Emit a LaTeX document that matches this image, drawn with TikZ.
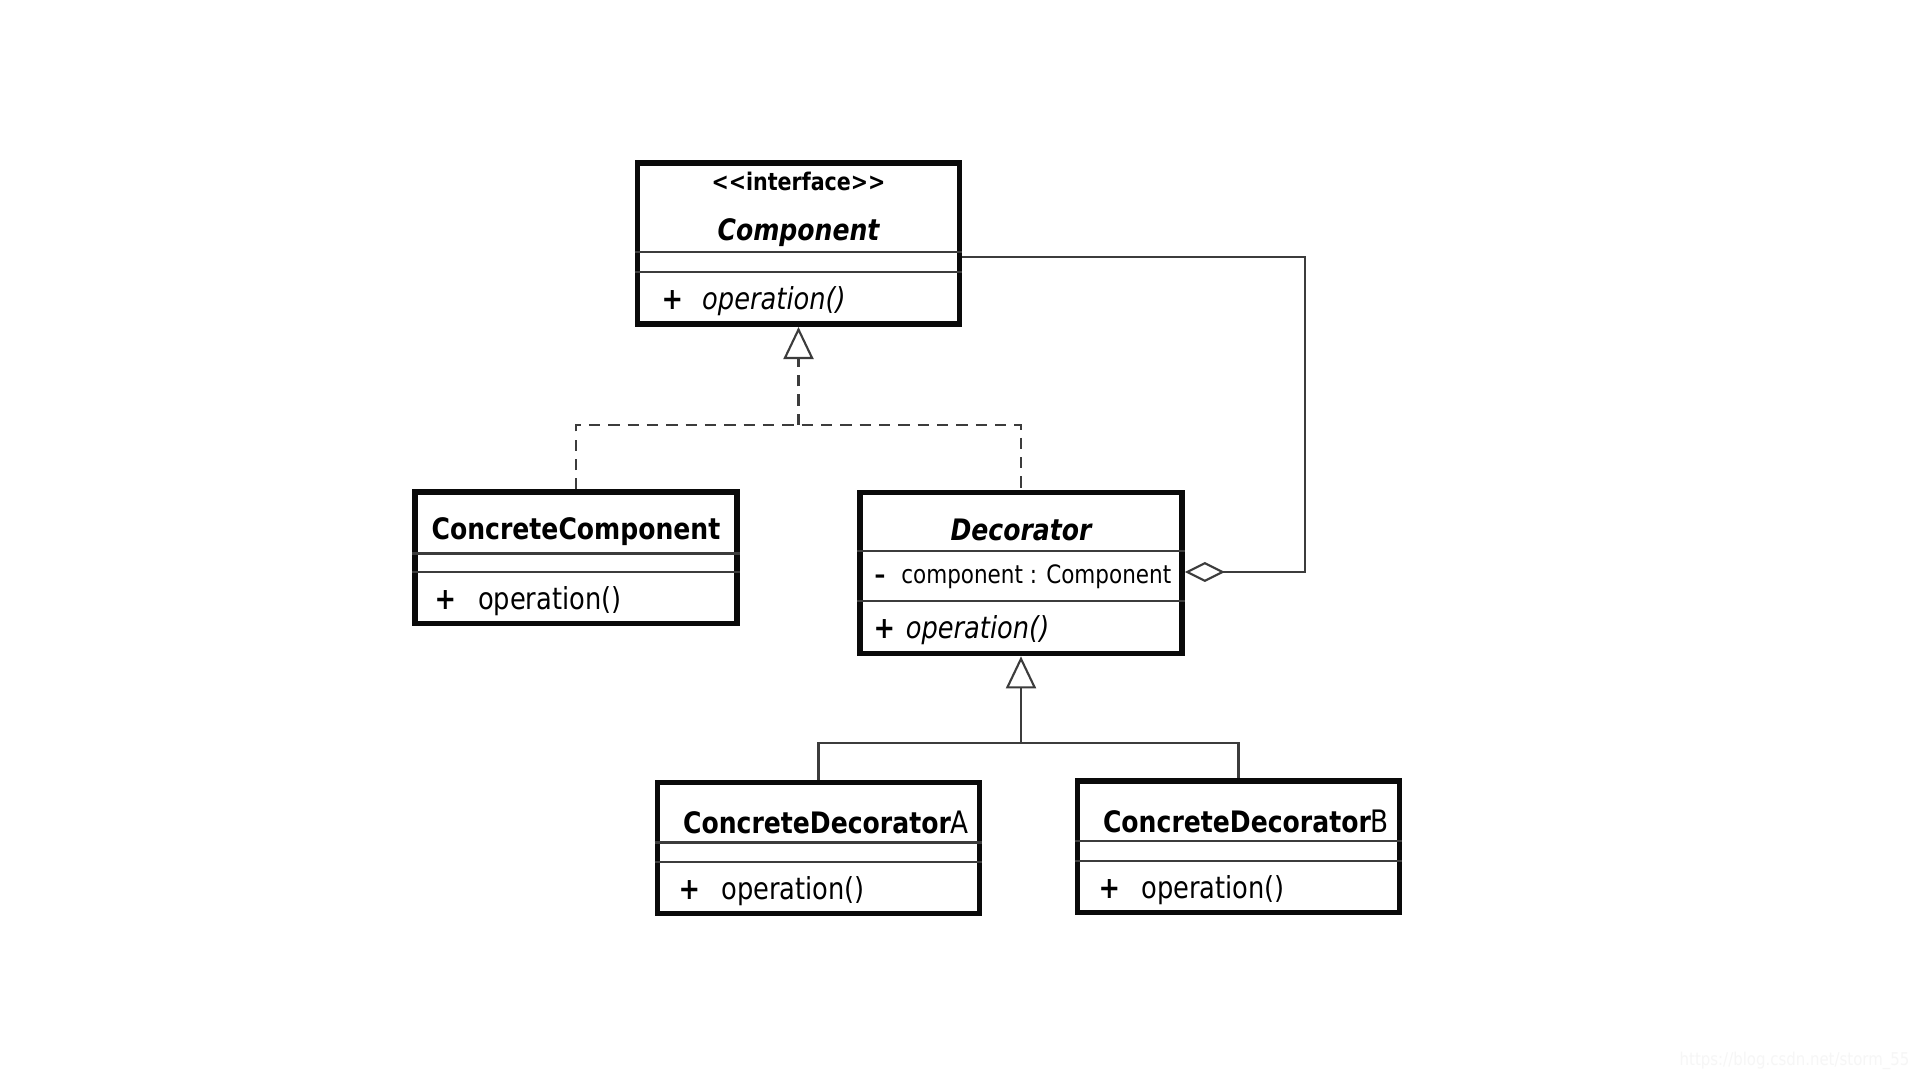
\documentclass[tikz,border=0pt]{standalone}
\usepackage{fontspec}
\setmainfont{DejaVu Sans}[FakeStretch=0.85]
\usepackage{tikz}
\usetikzlibrary{arrows.meta,positioning}
\definecolor{umlblack}{HTML}{0A0A0A}
\definecolor{umlgray}{HTML}{3C3C3C}
\definecolor{umlfaint}{HTML}{F6F6F6}
\tikzset{
  umlbox/.style={
    draw=umlblack, fill=white, line width=1.6pt,
    minimum width=3.22cm, inner sep=0pt
  },
  umlsep/.style={draw=umlgray, line width=0.7pt},
  umlstereo/.style={font=\fontsize{6.9}{8}\selectfont\bfseries, inner sep=0pt},
  umlname/.style={font=\fontsize{8.4}{10}\selectfont\bfseries, inner sep=0pt},
  umlitem/.style={font=\fontsize{8.6}{10}\selectfont, inner sep=0pt, anchor=west},
  umlreal/.style={draw=umlgray, line width=0.6pt, dash pattern=on 3.2pt off 2.3pt},
  umlgen/.style={draw=umlgray, line width=0.6pt},
  umlopen/.style={-{Triangle[open,length=0.32cm,width=0.30cm]}},
  umlagg/.style={-{Diamond[open,length=0.40cm,width=0.20cm]}}
}

\begin{document}
\begin{tikzpicture}[x=0.01cm, y=-0.01cm]
  \fill[white] (0,0) rectangle (1920,1080);
  \useasboundingbox (0,0) rectangle (1920,1080);

  \node[umlbox, minimum height=1.61cm] (comp) at (798.5,243.7) {};
  \node[umlbox, minimum height=1.31cm] (cc)   at (576,557.8)   {};
  \node[umlbox, minimum height=1.61cm] (dec)  at (1021,573)    {};
  \node[umlbox, minimum height=1.31cm] (cda)  at (818.5,848)   {};
  \node[umlbox, minimum height=1.31cm] (cdb)  at (1238.5,846.8){};

  \foreach \b/\y in {comp/252, comp/272, cc/553.5, cc/571.8, dec/551, dec/601,
                     cda/842.5, cda/862, cdb/841, cdb/861}
    \draw[umlsep] (\b.west |- 0,\y) -- (\b.east |- 0,\y);

  \node[umlstereo] (compst)   at (798.5,181) {{<}{<}interface{>}{>}};
  \node[umlname, font=\fontsize{8.4}{10}\selectfont\bfseries\itshape]
    (compname) at (798.5,233) {Component};
  \node[umlitem] (compop) at (661,301.5) {\textbf{+}\hspace{5.4pt}\textit{operation()}};

  \node[umlname] (ccname) at (576,531.8) {ConcreteComponent};
  \node[umlitem] (ccop)   at (434,601.3) {\textbf{+}\hspace{6.2pt}operation()};

  \node[umlname, font=\fontsize{8.4}{10}\selectfont\bfseries\itshape]
    (decname) at (1021,530) {Decorator};
  \node[umlitem, font=\fontsize{7.2}{9}\selectfont]
    (decattr) at (874,576.5) {\textbf{--}\hspace{4.5pt}component : Component};
  \node[umlitem] (decop)   at (873,630.5) {\textbf{+}\hspace{3pt}\textit{operation()}};

  \node[umlname] (cdaname) at (826,822)
    {ConcreteDecorator{\fontsize{8.8}{10}\selectfont\mdseries A}};
  \node[umlitem] (cdaop) at (678,891.5) {\textbf{+}\hspace{6pt}operation()};
  \node[umlname] (cdbname) at (1246,821)
    {ConcreteDecorator{\fontsize{8.8}{10}\selectfont\mdseries B}};
  \node[umlitem] (cdbop) at (1098,890.5) {\textbf{+}\hspace{6pt}operation()};

  \coordinate (realjn) at (comp.south |- 0,425);
  \draw[umlreal] (cc.north) |- (realjn) -| (dec.north);
  \draw[umlreal, umlopen] (realjn) -- (comp.south);

  \coordinate (aggtop) at (1305,257);
  \coordinate (aggbot) at (1305,572);
  \draw[umlgen, umlagg] (comp.east |- aggtop) -- (aggtop) -- (aggbot)
    -- (dec.east |- aggbot);

  \coordinate (genjn) at (dec.south |- 0,743);
  \draw[umlgen] (cda.north) |- (genjn) -| (cdb.north);
  \draw[umlgen, umlopen] (genjn) -- (dec.south);

  \node[font=\fontsize{5}{6}\selectfont, text=umlfaint, anchor=east, inner sep=0pt]
    (wmark) at (1910,1061) {https://blog.csdn.net/storm\_55};
\end{tikzpicture}
\end{document}
